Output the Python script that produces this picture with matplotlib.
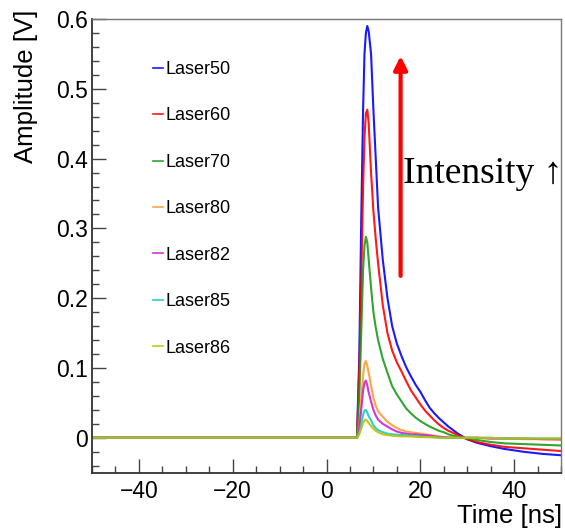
import matplotlib
matplotlib.use("Agg")
import matplotlib.pyplot as plt
from matplotlib.ticker import MultipleLocator, FormatStrFormatter

plt.rcParams['font.family'] = ['Liberation Sans', 'DejaVu Sans']

# time grid [ns]
time_ns = [-50, -20, 0, 5, 6.5,
           7.0, 7.4, 7.8, 8.1, 8.4, 8.7, 9.0, 9.5, 10, 10.5, 11,
           12, 13, 14, 15, 16, 17, 18, 19, 20, 21,
           22, 23, 24, 25, 26, 27, 28, 29,
           30, 32, 35, 38, 42, 46, 50]

laser50 = [0, 0, 0, 0, 0,
           0.12, 0.31, 0.47, 0.55, 0.58, 0.59, 0.582, 0.55, 0.47, 0.40, 0.33,
           0.255, 0.20, 0.16, 0.135, 0.117, 0.101, 0.088, 0.076, 0.066, 0.054,
           0.043, 0.035, 0.028, 0.022, 0.016, 0.011, 0.006, 0.002,
           -0.002, -0.007, -0.012, -0.016, -0.020, -0.023, -0.025]
laser60 = [0, 0, 0, 0, 0,
           0.10, 0.22, 0.36, 0.43, 0.465, 0.470, 0.45, 0.38, 0.325, 0.285, 0.25,
           0.19, 0.15, 0.125, 0.108, 0.095, 0.081, 0.068, 0.058, 0.048, 0.039,
           0.032, 0.025, 0.019, 0.014, 0.010, 0.007, 0.004, 0.001,
           -0.002, -0.006, -0.010, -0.013, -0.015, -0.017, -0.019]
laser70 = [0, 0, 0, 0, 0,
           0.06, 0.15, 0.24, 0.275, 0.288, 0.28, 0.255, 0.215, 0.18, 0.158, 0.14,
           0.113, 0.093, 0.074, 0.062, 0.052, 0.042, 0.035, 0.029, 0.024, 0.020,
           0.016, 0.013, 0.010, 0.008, 0.005, 0.003, 0.002, 0.0,
           -0.001, -0.003, -0.006, -0.008, -0.009, -0.010, -0.011]
laser80 = [0, 0, 0, 0, 0,
           0.02, 0.055, 0.09, 0.106, 0.110, 0.103, 0.093, 0.075, 0.057, 0.046, 0.038,
           0.030, 0.023, 0.018, 0.014, 0.011, 0.009, 0.008, 0.007, 0.006, 0.005,
           0.004, 0.003, 0.002, 0.001, 0.001, 0.0, 0.0, 0.0,
           0.0, 0.0, -0.001, -0.001, -0.002, -0.002, -0.003]
laser82 = [0, 0, 0, 0, 0,
           0.015, 0.04, 0.067, 0.079, 0.082, 0.075, 0.065, 0.052, 0.040, 0.032, 0.026,
           0.020, 0.016, 0.012, 0.009, 0.007, 0.006, 0.005, 0.005, 0.004, 0.004,
           0.003, 0.002, 0.001, 0.001, 0.0, 0.0, 0.0, 0.0,
           0.0, 0.0, -0.001, -0.001, -0.001, -0.002, -0.002]
laser85 = [0, 0, 0, 0, 0,
           0.008, 0.02, 0.033, 0.039, 0.040, 0.036, 0.031, 0.025, 0.018, 0.014, 0.011,
           0.008, 0.006, 0.005, 0.0045, 0.004, 0.0035, 0.003, 0.0025, 0.002, 0.0015,
           0.001, 0.001, 0.0, 0.0, 0.0, 0.0, 0.0, 0.0,
           0.0, 0.0, 0.0, -0.001, -0.001, -0.001, -0.001]
laser86 = [0, 0, 0, 0, 0,
           0.005, 0.013, 0.021, 0.025, 0.026, 0.024, 0.021, 0.017, 0.013, 0.010, 0.008,
           0.005, 0.004, 0.003, 0.0025, 0.002, 0.002, 0.002, 0.0015, 0.001, 0.001,
           0.001, 0.0005, 0.0, 0.0, 0.0, 0.0, 0.0, 0.0,
           0.0, 0.0, 0.0, -0.001, -0.001, -0.001, -0.001]

labels = ["Laser50", "Laser60", "Laser70", "Laser80", "Laser82", "Laser85", "Laser86"]
series = [laser50, laser60, laser70, laser80, laser82, laser85, laser86]
colors = ["#0000ff", "#ff0000", "#1a9a1a", "#ff9933", "#cc22cc", "#11cccc", "#bfbf00"]

fig = plt.figure(figsize=(5.65, 5.31), dpi=100)
ax = fig.add_axes([92/565, (531-472.7)/531, (561-92)/565, (472.7-19)/531])

for vals, lab, c in zip(series, labels, colors):
    ax.plot(time_ns, vals, color=c, lw=1.5, alpha=0.9, label=lab)

ax.set_xlim(-50, 50)
ax.set_ylim(-0.05, 0.6)

ax.xaxis.set_major_locator(MultipleLocator(20))
ax.xaxis.set_minor_locator(MultipleLocator(5))
ax.yaxis.set_major_locator(MultipleLocator(0.1))
ax.yaxis.set_minor_locator(MultipleLocator(0.02))
ax.yaxis.set_major_formatter(FormatStrFormatter('%g'))

ax.tick_params(which='both', direction='in', top=False, right=False, colors='#444444',
               labelcolor='black', labelsize=16.5, width=1.0)
ax.tick_params(which='major', length=10)
ax.tick_params(which='minor', length=5)
ax.tick_params(axis='y', pad=3)
ax.tick_params(axis='x', pad=5)

for s in ['left', 'bottom']:
    ax.spines[s].set_color('#333333')
    ax.spines[s].set_linewidth(1.3)
for s in ['top', 'right']:
    ax.spines[s].set_color('#777777')
    ax.spines[s].set_linewidth(1.0)

fig.text(26/565, 1 - 10/531, "Amplitude [V]", rotation=90, ha='center', va='top', fontsize=18.5)
fig.text(562/565, (531-516)/531, "Time [ns]", ha='right', va='center', fontsize=18.5)

leg = ax.legend(loc='upper left', bbox_to_anchor=(153/565, 1 - 61/531),
                bbox_transform=fig.transFigure, frameon=False, fontsize=13,
                handlelength=0.55, handletextpad=0.15, labelspacing=1.63, borderpad=0, borderaxespad=0)
for line in leg.get_lines():
    line.set_linewidth(1.2)

ax.annotate('', xy=(15.8, 0.547), xytext=(15.8, 0.232),
            arrowprops=dict(arrowstyle='-|>', color='red', lw=3, mutation_scale=20,
                            shrinkA=0, shrinkB=0))
ax.text(16.35, 0.378, "Intensity \u2191", ha='left', va='center', fontsize=27,
        family=['Liberation Serif', 'DejaVu Serif'])

fig.savefig("out.png", dpi=100)
